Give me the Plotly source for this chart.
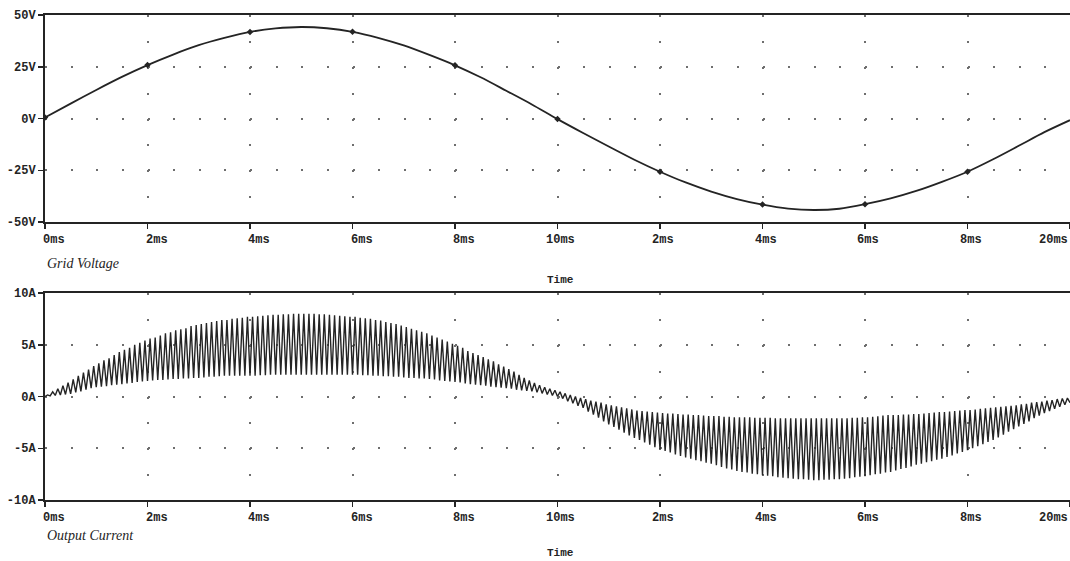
import plotly.graph_objects as go

# ---------------- data ----------------
# Grid voltage, sampled every 0.5 ms from 0 to 20 ms
voltage_t_ms = [0.5 * i for i in range(41)]
voltage_v = [
    0.5, 7.2, 13.8, 20.1, 25.8, 30.9, 35.4, 38.9, 41.8, 43.5,
    44.2, 43.6, 41.9, 39.0, 35.3, 30.7, 25.7, 19.9, 13.4, 6.8,
    -0.3, -7.0, -13.5, -19.9, -25.7, -30.9, -35.3, -38.9, -41.6, -43.5,
    -44.2, -43.6, -41.4, -38.6, -35.0, -30.6, -25.7, -19.7, -13.2, -6.6,
    -0.8,
]

# Output current ripple: one peak per 0.1 ms cycle (at 0.05, 0.15, ... ms)
current_peak_a = [
    0.15, 0.45, 0.75, 1.05, 1.35, 1.65, 2.0, 2.3, 2.6, 2.95,
    3.2, 3.5, 3.7, 4.0, 4.3, 4.5, 4.7, 5.0, 5.2, 5.4,
    5.6, 5.7, 5.9, 6.1, 6.2, 6.4, 6.5, 6.6, 6.8, 6.9,
    7.0, 7.1, 7.2, 7.3, 7.4, 7.4, 7.5, 7.55, 7.6, 7.7,
    7.7, 7.75, 7.8, 7.85, 7.9, 7.9, 7.95, 7.95, 8.0, 8.0,
    8.0, 8.0, 8.0, 7.95, 7.95, 7.9, 7.85, 7.8, 7.75, 7.7,
    7.7, 7.6, 7.55, 7.5, 7.4, 7.35, 7.2, 7.1, 7.0, 6.85,
    6.7, 6.55, 6.4, 6.25, 6.1, 5.9, 5.7, 5.5, 5.3, 5.1,
    4.9, 4.7, 4.4, 4.2, 4.0, 3.8, 3.6, 3.4, 3.1, 2.9,
    2.65, 2.4, 2.1, 1.8, 1.55, 1.3, 1.1, 0.9, 0.75, 0.6,
    0.45, 0.3, 0.15, 0.0, -0.15, -0.25, -0.4, -0.5, -0.6, -0.75,
    -0.85, -0.95, -1.05, -1.15, -1.25, -1.35, -1.4, -1.45, -1.5, -1.55,
    -1.6, -1.65, -1.65, -1.7, -1.75, -1.75, -1.8, -1.8, -1.85, -1.9,
    -1.9, -1.9, -1.95, -1.95, -2.0, -2.0, -2.0, -2.0, -2.05, -2.05,
    -2.05, -2.05, -2.1, -2.1, -2.1, -2.1, -2.1, -2.1, -2.1, -2.1,
    -2.1, -2.1, -2.1, -2.1, -2.1, -2.1, -2.1, -2.05, -2.05, -2.0,
    -2.0, -1.95, -1.9, -1.85, -1.8, -1.8, -1.8, -1.75, -1.75, -1.7,
    -1.7, -1.65, -1.6, -1.55, -1.5, -1.5, -1.45, -1.4, -1.35, -1.3,
    -1.3, -1.25, -1.2, -1.15, -1.1, -1.05, -1.0, -0.95, -0.9, -0.85,
    -0.75, -0.7, -0.6, -0.55, -0.5, -0.4, -0.35, -0.25, -0.2, -0.15,
]
# Output current ripple: one trough per 0.1 ms cycle (at 0.0, 0.1, ... 20.0 ms)
current_trough_a = [
    0.0, 0.05, 0.1, 0.15, 0.2, 0.25, 0.4, 0.5, 0.65, 0.8,
    0.9, 0.95, 1.0, 1.1, 1.15, 1.2, 1.25, 1.3, 1.4, 1.45,
    1.5, 1.55, 1.6, 1.6, 1.65, 1.7, 1.7, 1.75, 1.75, 1.8,
    1.8, 1.85, 1.9, 1.9, 1.95, 2.0, 2.0, 2.0, 2.0, 2.0,
    2.0, 2.0, 2.05, 2.05, 2.1, 2.1, 2.1, 2.1, 2.1, 2.1,
    2.1, 2.1, 2.1, 2.1, 2.1, 2.1, 2.1, 2.1, 2.1, 2.1,
    2.1, 2.1, 2.05, 2.05, 2.0, 2.0, 1.95, 1.95, 1.9, 1.9,
    1.85, 1.8, 1.8, 1.75, 1.75, 1.7, 1.65, 1.55, 1.5, 1.45,
    1.4, 1.35, 1.25, 1.2, 1.15, 1.1, 1.05, 0.95, 0.9, 0.85,
    0.8, 0.75, 0.65, 0.6, 0.55, 0.5, 0.4, 0.3, 0.2, 0.1,
    0.0, -0.2, -0.45, -0.65, -0.9, -1.1, -1.45, -1.75, -2.05, -2.4,
    -2.7, -2.95, -3.2, -3.5, -3.75, -4.0, -4.2, -4.45, -4.65, -4.9,
    -5.1, -5.25, -5.4, -5.6, -5.75, -5.9, -6.0, -6.15, -6.25, -6.4,
    -6.5, -6.65, -6.8, -6.95, -7.05, -7.2, -7.3, -7.35, -7.45, -7.5,
    -7.6, -7.65, -7.7, -7.8, -7.85, -7.9, -7.95, -8.0, -8.0, -8.05,
    -8.1, -8.1, -8.05, -8.05, -8.0, -8.0, -7.95, -7.9, -7.8, -7.75,
    -7.7, -7.6, -7.5, -7.45, -7.35, -7.3, -7.15, -7.0, -6.9, -6.75,
    -6.6, -6.5, -6.35, -6.25, -6.1, -6.0, -5.85, -5.7, -5.5, -5.35,
    -5.2, -5.0, -4.8, -4.6, -4.4, -4.2, -3.95, -3.7, -3.4, -3.15,
    -2.9, -2.65, -2.4, -2.1, -1.85, -1.6, -1.4, -1.2, -1.0, -0.8,
    -0.6,
]

x_tick_ms = [0, 2, 4, 6, 8, 10, 12, 14, 16, 18, 20]
x_tick_text = ["0ms", "2ms", "4ms", "6ms", "8ms", "10ms", "2ms", "4ms", "6ms", "8ms", "20ms"]
v_tick_vals = [-50, -25, 0, 25, 50]
v_tick_text = ["-50V", "-25V", "0V", "25V", "50V"]
i_tick_vals = [-10, -5, 0, 5, 10]
i_tick_text = ["-10A", "-5A", "0A", "5A", "10A"]

# ---------------- build ripple polyline ----------------
ripple_period_ms = 0.1
trough_t = [round(ripple_period_ms * k, 3) for k in range(len(current_trough_a))]
peak_t = [round(ripple_period_ms * k + ripple_period_ms / 2, 3) for k in range(len(current_peak_a))]
cur_t, cur_a = [], []
for k in range(len(current_peak_a)):
    cur_t += [trough_t[k], peak_t[k]]
    cur_a += [current_trough_a[k], current_peak_a[k]]
cur_t.append(trough_t[-1])
cur_a.append(current_trough_a[-1])

# ---------------- figure ----------------
W, H = 1070, 561
ML = 45
INK = "#242424"
DOT = "#6e6e6e"
MONO = "Liberation Mono"
SERIF = "Liberation Serif"

def py(px):  # pixel row -> paper y
    return 1 - px / H

top_dom = [py(222), py(15)]
bot_dom = [py(500), py(293)]
plot_w = W - ML

fig = go.Figure()
fig.add_trace(go.Scatter(x=voltage_t_ms, y=voltage_v, mode="lines",
                         line=dict(color=INK, width=1.8, shape="spline", smoothing=0.8),
                         xaxis="x", yaxis="y", hoverinfo="skip"))
fig.add_trace(go.Scatter(x=voltage_t_ms[0:40:4], y=voltage_v[0:40:4], mode="markers",
                         marker=dict(symbol="diamond", size=5, color=INK),
                         xaxis="x", yaxis="y", hoverinfo="skip"))
fig.add_trace(go.Scatter(x=cur_t, y=cur_a, mode="lines",
                         line=dict(color=INK, width=1.4),
                         xaxis="x2", yaxis="y2", hoverinfo="skip"))

def xaxis_cfg(anchor, dom_h):
    step = dom_h / 8.0
    return dict(
        domain=[0, 1], range=[0, 20], anchor=anchor,
        tickvals=x_tick_ms, showticklabels=False,
        ticks="outside", ticklen=5, tickwidth=1.5, tickcolor=INK,
        showline=True, linewidth=2, linecolor=INK, mirror=True,
        showgrid=True, gridcolor=DOT, gridwidth=2,
        griddash=f"2px,{step - 2:.3f}px",
        zeroline=False, automargin=False, fixedrange=True,
    )

def yaxis_cfg(anchor, dom, rng, vals, texts):
    step = plot_w / 40.0
    return dict(
        domain=dom, range=rng, anchor=anchor,
        tickvals=vals, ticktext=texts,
        tickfont=dict(family=MONO, size=12, color=INK, weight="bold"),
        ticks="outside", ticklen=5, tickwidth=1.5, tickcolor=INK,
        showline=True, linewidth=2, linecolor=INK, mirror=False,
        showgrid=True, gridcolor=DOT, gridwidth=2,
        griddash=f"2px,{step - 2:.3f}px",
        zeroline=False, automargin=False, fixedrange=True,
    )

dom_h_px = 207
fig.update_layout(
    width=W, height=H, autosize=False, template="none",
    margin=dict(l=ML, r=0, t=0, b=0, pad=0),
    paper_bgcolor="white", plot_bgcolor="white", showlegend=False,
    xaxis=xaxis_cfg("y", dom_h_px),
    yaxis=yaxis_cfg("x", top_dom, [-50, 50], v_tick_vals, v_tick_text),
    xaxis2=xaxis_cfg("y2", dom_h_px),
    yaxis2=yaxis_cfg("x2", bot_dom, [-10, 10], i_tick_vals, i_tick_text),
)

annotations = []
tick_font = dict(family=MONO, size=12, color=INK, weight="bold")
for xr, yr in (("x", "y domain"), ("x2", "y2 domain")):
    for v, txt in zip(x_tick_ms, x_tick_text):
        if v == x_tick_ms[-1]:
            shift = -17
        else:
            shift = 9 if v < 10 else 3
        annotations.append(dict(x=v, y=0, xref=xr, yref=yr, text=txt, showarrow=False,
                                xanchor="center", yanchor="top", xshift=shift, yshift=-9,
                                font=tick_font))

label_font = dict(family=SERIF, size=14, color=INK, style="italic")
annotations += [
    dict(x=0, y=py(263), xref="paper", yref="paper", text="Grid Voltage", showarrow=False,
         xanchor="left", yanchor="middle", font=label_font),
    dict(x=0, y=py(535), xref="paper", yref="paper", text="Output Current", showarrow=False,
         xanchor="left", yanchor="middle", font=label_font),
    dict(x=(560 - ML) / plot_w, y=py(280), xref="paper", yref="paper", text="Time", showarrow=False,
         xanchor="center", yanchor="middle", font=dict(family=MONO, size=11, color=INK, weight="bold")),
    dict(x=(560 - ML) / plot_w, y=py(553), xref="paper", yref="paper", text="Time", showarrow=False,
         xanchor="center", yanchor="middle", font=dict(family=MONO, size=11, color=INK, weight="bold")),
]
fig.update_layout(annotations=annotations)

fig.write_html("out.html",
               config={"displayModeBar": False, "staticPlot": True},
               post_script="document.body.style.margin='0';document.body.style.padding='0';"
                           "document.body.style.overflow='hidden';")
